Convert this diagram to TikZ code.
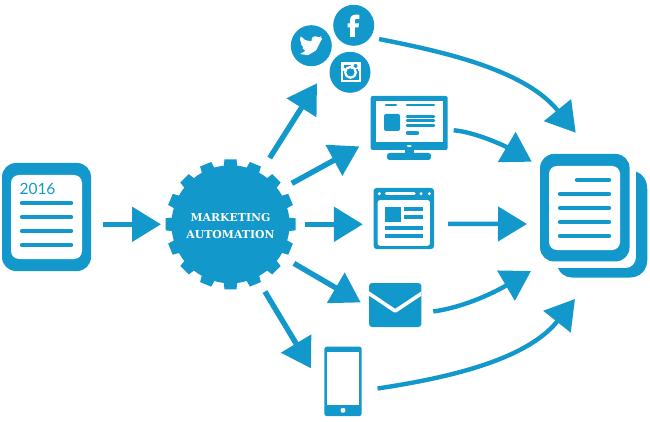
\documentclass[tikz,border=0pt]{standalone}
\usepackage{fontspec}
\setmainfont{Lato}
\newfontfamily\slab{DejaVu Serif}
\usetikzlibrary{arrows.meta}
\definecolor{mablue}{HTML}{1398CC}
\tikzset{
  conn/.style={draw=mablue,line width=5.4pt,-{Triangle[length=29pt,width=34pt]}},
  curveconn/.style={conn,line width=4.4pt},
  solid box/.style={fill=mablue,rectangle,inner sep=0pt,outer sep=0pt},
  blank box/.style={fill=white,rectangle,inner sep=0pt,outer sep=0pt},
  disc/.style={fill=mablue,circle,inner sep=0pt,outer sep=0pt,minimum size=41pt},
  textline/.style={draw=mablue,line width=4.4pt,line cap=round},
  thinline/.style={draw=mablue,line width=2.6pt,line cap=round},
  flatline/.style={draw=mablue,line width=3.8pt},
  glyph/.style={fill=white,draw=none},
}
\begin{document}
\begin{tikzpicture}[x=1pt,y=-1pt]
\useasboundingbox (0,0) rectangle (650,422);

% source document
\node[solid box,rounded corners=14pt,minimum width=89pt,minimum height=108pt] (srcdoc) at (46.5,217) {};
\node[blank box,rounded corners=8pt,minimum width=71pt,minimum height=84pt] (srcpage) at (46.5,217) {};
\node[text=mablue,font=\fontsize{15.5}{18}\selectfont,inner sep=0pt] (year) at (37.5,188.5) {2016};
\foreach \y in {203,217,231,245} \draw[textline] (22,\y) -- (71,\y);

% gear
\node[fill=mablue,circle,inner sep=0pt,outer sep=0pt,minimum size=118pt] (gear) at (230.5,224.3) {};
\foreach \a in {0,22.5,...,337.5}
  \fill[mablue,rotate around={\a:(230.5,224.3)}] (223.5,168) -- (224.5,159.3) -- (236.5,159.3) -- (237.5,168) -- cycle;
\node[text=white,inner sep=0pt,align=center,font=\slab\bfseries\fontsize{10.9}{17}\selectfont] (gearlabel) at (230.5,226.3) {MARKETING\\AUTOMATION};

% social
\node[disc] (fb) at (353.7,25.3) {};
\node[disc] (tw) at (311.3,45.7) {};
\node[disc] (ig) at (350,72.3) {};
\coordinate (social) at (317,83.3);
\fill[glyph] (350,36.8) -- (350,27.5) -- (347.6,27.5) -- (347.6,23.5) -- (350,23.5) -- (350,20.5)
  .. controls (350,16.5) and (352.5,14.6) .. (356,14.6) -- (359.3,14.8) -- (359.3,18.8) -- (357,18.8)
  .. controls (355.2,18.8) and (354.8,19.5) .. (354.8,21) -- (354.8,23.5) -- (359,23.5) -- (358.4,27.5) -- (354.8,27.5) -- (354.8,36.8) -- cycle;
\fill[glyph,rounded corners=0.8pt] (300,54) -- (308,55.2) -- (316,50.5) -- (320.5,41.5) -- (322.5,38) -- (320,38.5) -- (322,36) -- (318,37.5) -- (315.5,36) -- (312,37.5) -- (311.5,41.5) -- (305,40) -- (300.5,36) -- (300,40.5) -- (302,43.5) -- (300.5,43.5) -- (303.5,47.5) -- (302,48) -- (305.5,51) -- cycle;
\draw[white,line width=2.2pt] (342.2,63) rectangle (359.8,80.8);
\fill[white] (342.2,63) rectangle (359.8,69);
\fill[mablue] (344,65) rectangle (351,69);
\fill[mablue] (355.5,66) circle (2pt);
\draw[white,line width=2.2pt] (350.5,72.3) circle (5.4pt);
\fill[white] (341.5,68) rectangle (344.5,71.5);
\fill[white] (357.5,68) rectangle (360.5,71.5);

% monitor
\node[solid box,rounded corners=2pt,minimum width=77pt,minimum height=54pt] (monitor) at (409.2,123) {};
\node[blank box,minimum width=67.3pt,minimum height=40.7pt] (screen) at (409.3,121.3) {};
\node[solid box,minimum width=9pt,minimum height=6pt] (neck) at (409.5,153) {};
\node[solid box,rounded corners=2.5pt,minimum width=44pt,minimum height=7pt] (base) at (409,156.5) {};
\fill[white] (409.2,146) ellipse (2.4pt and 1pt);
\draw[thinline] (386,105) -- (396,105);
\draw[thinline] (407,105) -- (434,105);
\node[solid box,rounded corners=2pt,minimum width=16pt,minimum height=17pt] (mthumb) at (392,122.5) {};
\foreach \y in {116.3,120.8,125.3} \draw[thinline] (407,\y) -- (434,\y);
\draw[thinline,line width=4.4pt] (408,133) -- (417,133);

% browser
\node[solid box,rounded corners=3pt,minimum width=60.5pt,minimum height=61pt] (browser) at (403.8,218.5) {};
\node[blank box,rounded corners=2.5pt,minimum width=52.3pt,minimum height=45.7pt] (page) at (403.8,222.9) {};
\fill[white] (379.3,193.7) circle (1.7pt) (421,193.7) circle (1.7pt) (429.3,193.7) circle (1.7pt);
\draw[white,line width=3.5pt,line cap=round] (386.5,193.7) -- (414,193.7);
\node[solid box,minimum width=15.7pt,minimum height=15pt] (bthumb) at (392.8,214.5) {};
\foreach \y in {209,216.7} \draw[flatline] (404,\y) -- (423.3,\y);
\foreach \y in {228,235.7} \draw[flatline] (385,\y) -- (423.3,\y);

% mail
\node[solid box,rounded corners=3pt,minimum width=52.3pt,minimum height=44pt] (mail) at (395.2,305) {};
\begin{scope}
  \clip (369,283) rectangle (421.4,327);
  \draw[white,line width=3.6pt,line join=round] (368,292.8) -- (395.2,311) -- (422.5,292.8);
\end{scope}

% phone
\node[solid box,rounded corners=2.5pt,minimum width=37.4pt,minimum height=69.4pt] (phone) at (343,381.4) {};
\node[blank box,minimum width=32.7pt,minimum height=52.7pt] (display) at (343,378.7) {};
\fill[white] (343,410.3) circle (2.5pt);

% target documents
\fill[mablue] (636,171.5) .. controls (643,174) and (647.3,180) .. (647.3,190) -- (647.3,260)
  .. controls (647.3,270) and (640,277.5) .. (630,277.5) -- (572,277.5)
  .. controls (565,277.5) and (560,273) .. (558,268.2) -- (625,268.2)
  .. controls (632,268.2) and (636,263) .. (636,257) -- cycle;
\node[solid box,rounded corners=14pt,minimum width=89.5pt,minimum height=107.5pt] (outdoc) at (584.8,207.7) {};
\node[blank box,rounded corners=8pt,minimum width=71pt,minimum height=84pt] (outpage) at (584.5,208) {};
\draw[textline] (577,180) -- (609,180);
\foreach \y in {194,208,222,236} \draw[textline] (560,\y) -- (609,\y);

% named free ends at the target
\coordinate (in1) at (575.7,132.7);
\coordinate (in2) at (531.7,161.7);
\coordinate (in3) at (527,224);
\coordinate (in4) at (531,271);
\coordinate (in5) at (575,299);

% connectors
\draw[conn,shorten <=12pt,shorten >=10.5pt] (srcdoc.east|-gear.west) -- (gear.west);
\draw[conn,shorten <=15pt,shorten >=10.7pt] (gear.east) -- (browser.west|-gear.east);
\draw[conn,shorten <=18pt] (gear.60) -- (social);
\draw[conn,shorten <=14.8pt,shorten >=13pt] (gear.35) -- (monitor.204.6);
\draw[conn,shorten <=15.5pt,shorten >=9.6pt] (gear.-32.5) -- (mail.185.7);
\draw[conn,shorten <=16.6pt,shorten >=25.8pt] (gear.-64) -- (phone.206.7);
\draw[curveconn,shorten <=9pt] (fb.-36) .. controls (445,52) and (525,70) .. (in1);
\draw[curveconn,shorten <=6pt] (monitor.-10) .. controls (475,132) and (505,146) .. (in2);
\draw[curveconn,shorten <=14pt] (browser.-10) -- (in3);
\draw[curveconn,shorten <=12pt] (mail.-17) .. controls (460,308) and (490,295) .. (in4);
\draw[curveconn,shorten <=16pt] (phone.-27) .. controls (440,379) and (525,362) .. (in5);
\end{tikzpicture}
\end{document}
